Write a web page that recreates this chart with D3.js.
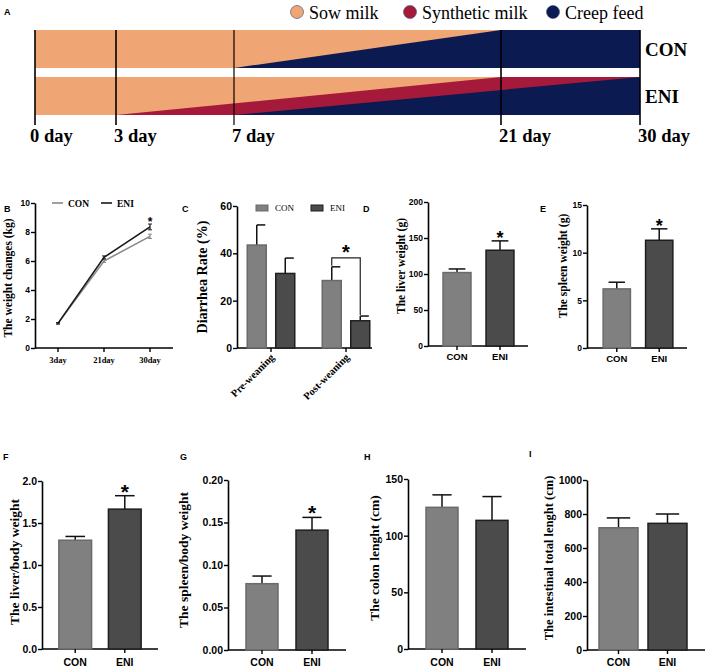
<!DOCTYPE html>
<html><head><meta charset="utf-8">
<script src="https://cdn.jsdelivr.net/npm/d3@7"></script>
<style>body{margin:0;background:#fff} svg{display:block}</style>
</head><body><svg id="c" width="708" height="668"></svg>
<script>
// ================= DATA =================
// Panel A: feeding schedule
const timelineDays = [0, 3, 7, 21, 30];
const timelineLabels = ["0 day", "3 day", "7 day", "21 day", "30 day"];
const feedTypes = ["Sow milk", "Synthetic milk", "Creep feed"];
const feedGroups = ["CON", "ENI"];
// polygons as [day, share-from-bottom]
const conCreep = [[7, 0], [21, 1], [30, 1], [30, 0]];
const eniSynthetic = [[3, 0], [21, 1], [30, 1], [30, 0]];
const eniCreep = [[7, 0], [30, 1], [30, 0]];

// Panel B: weight changes
const weightDays = ["3day", "21day", "30day"];
const weightCON = [1.7, 6.0, 7.7];
const weightCONErr = [0.05, 0.1, 0.15];
const weightENI = [1.7, 6.25, 8.35];
const weightENIErr = [0.05, 0.1, 0.2];

// Panel C: diarrhea rate
const phases = ["Pre-weaning", "Post-weaning"];
const diarrheaCON = [43.5, 28.5];
const diarrheaCONErr = [8.5, 5.8];
const diarrheaENI = [31.5, 11.5];
const diarrheaENIErr = [6.5, 2.0];

// Panels D-I
const groups = ["CON", "ENI"];
const liverWeight = [102, 133], liverWeightErr = [5, 13];
const spleenWeight = [6.2, 11.3], spleenWeightErr = [0.7, 1.2];
const liverBody = [1.295, 1.665], liverBodyErr = [0.045, 0.16];
const spleenBody = [0.078, 0.141], spleenBodyErr = [0.009, 0.015];
const colonLength = [125, 113.5], colonLengthErr = [11, 21];
const intestinalLength = [719, 745], intestinalLengthErr = [58, 55];

// ================= STYLE =================
const feedColor = {"Sow milk": "#f0a574", "Synthetic milk": "#a51a3a", "Creep feed": "#0b1a50"};
const barFill = {CON: "#808080", ENI: "#4b4b4b"};
const barStroke = {CON: "#6a6a6a", ENI: "#1e1e1e"};
const SERIF = "'Liberation Serif', 'Times New Roman', serif";
const SANS = "'Liberation Sans', Arial, sans-serif";

const svg = d3.select("#c");

function panelLabel(t, x, y) {
  svg.append("text").attr("x", x).attr("y", y).text(t)
    .attr("font-family", SANS).attr("font-weight", "bold").attr("font-size", 9);
}

// ================= PANEL A =================
(function () {
  panelLabel("A", 4, 15);
  const x = d3.scaleLinear().domain(timelineDays).range([35, 116, 234, 501, 640]);
  const bands = {CON: [30, 68], ENI: [77, 115]};
  const g = svg.append("g");
  feedGroups.forEach(grp => {
    const [t, b] = bands[grp];
    const y = d3.scaleLinear().domain([0, 1]).range([b, t]);
    g.append("rect").attr("x", x(0)).attr("y", t).attr("width", x(30) - x(0)).attr("height", b - t)
      .attr("fill", feedColor["Sow milk"]);
    const polys = grp === "CON" ? [["Creep feed", conCreep]] : [["Synthetic milk", eniSynthetic], ["Creep feed", eniCreep]];
    polys.forEach(([type, pts]) => {
      g.append("path").attr("d", d3.line().x(d => x(d[0])).y(d => y(d[1]))(pts) + "Z")
        .attr("fill", feedColor[type]);
    });
    svg.append("text").attr("x", 645).attr("y", (t + b) / 2 + 6.5).text(grp)
      .attr("font-family", SERIF).attr("font-weight", "bold").attr("font-size", 19);
  });
  timelineDays.forEach((d, i) => {
    g.append("line").attr("x1", x(d)).attr("x2", x(d)).attr("y1", 30).attr("y2", 125)
      .attr("stroke", "#000").attr("stroke-width", i === 2 ? 1.2 : 1.6);
    svg.append("text").attr("x", x(d) - (i === 0 ? 5 : 2)).attr("y", 142).text(timelineLabels[i])
      .attr("font-family", SERIF).attr("font-weight", "bold").attr("font-size", 18.5);
  });
  // legend
  const lx = [297, 410, 553];
  feedTypes.forEach((f, i) => {
    svg.append("circle").attr("cx", lx[i]).attr("cy", 12).attr("r", 6.5)
      .attr("fill", feedColor[f]).attr("stroke", "#3a4a7a").attr("stroke-width", 0.6);
    svg.append("text").attr("x", lx[i] + 12).attr("y", 18.5).text(f)
      .attr("font-family", SERIF).attr("font-size", 18);
  });
})();

// ================= generic helpers =================
function yAxis(g, y, ax, ticks, fmt, size) {
  const a = g.append("g").attr("transform", `translate(${ax},0)`)
    .call(d3.axisLeft(y).tickValues(ticks).tickFormat(fmt).tickSize(4).tickSizeOuter(0));
  a.select(".domain").attr("stroke", "#000").attr("stroke-width", 1.6);
  a.selectAll(".tick line").attr("stroke", "#000").attr("stroke-width", 1.4);
  a.selectAll(".tick text").attr("font-family", SANS).attr("font-weight", "bold")
    .attr("font-size", size).attr("x", -5).attr("fill", "#000");
  return a;
}
function xAxisLine(g, x0, x1, yb) {
  g.append("line").attr("x1", x0).attr("x2", x1).attr("y1", yb).attr("y2", yb)
    .attr("stroke", "#000").attr("stroke-width", 1.6);
}
function yLabel(text, x, y, size) {
  svg.append("text").attr("transform", `translate(${x},${y}) rotate(-90)`).attr("text-anchor", "middle")
    .text(text).attr("font-family", SERIF).attr("font-weight", "bold").attr("font-size", size);
}
function star(x, y, size) {
  svg.append("text").attr("x", x).attr("y", y).attr("text-anchor", "middle").text("*")
    .attr("font-family", SANS).attr("font-weight", "bold").attr("font-size", size);
}

function barPanel(c) {
  const g = svg.append("g");
  panelLabel(c.label, c.lx, c.ly);
  const y = d3.scaleLinear().domain([0, c.max]).range([c.yBot, c.yTop]);
  const x = d3.scaleBand().domain(groups).range(c.band).paddingInner(c.pi).paddingOuter(c.po);
  yAxis(g, y, c.ax, c.ticks, c.fmt, c.tickSize);
  xAxisLine(g, c.ax, c.axEnd, c.yBot);
  groups.forEach((grp, i) => {
    const bx = x(grp), bw = x.bandwidth();
    const v = c.values[i], e = c.errs[i];
    g.append("line").attr("x1", bx + bw / 2).attr("x2", bx + bw / 2).attr("y1", y(v)).attr("y2", y(v + e))
      .attr("stroke", "#111").attr("stroke-width", 1.5);
    g.append("line").attr("x1", bx + bw * 0.2).attr("x2", bx + bw * 0.8).attr("y1", y(v + e)).attr("y2", y(v + e))
      .attr("stroke", "#111").attr("stroke-width", 1.5);
    g.append("rect").attr("x", bx).attr("y", y(v)).attr("width", bw).attr("height", c.yBot - y(v))
      .attr("fill", barFill[grp]).attr("stroke", barStroke[grp]).attr("stroke-width", 1.5);
    g.append("line").attr("x1", bx + bw / 2).attr("x2", bx + bw / 2).attr("y1", c.yBot).attr("y2", c.yBot + 4)
      .attr("stroke", "#000").attr("stroke-width", 1.4);
    g.append("text").attr("x", bx + bw / 2).attr("y", c.xlabY).attr("text-anchor", "middle").text(grp)
      .attr("font-family", SANS).attr("font-weight", "bold").attr("font-size", c.xlabSize);
    if (c.sig[i]) star(bx + bw / 2, y(v + e) + c.starOff, c.starSize);
  });
  yLabel(c.ylabel, c.ylx, c.yly, c.ylSize);
}

// ================= PANEL B =================
(function () {
  panelLabel("B", 4, 212);
  const g = svg.append("g");
  const y = d3.scaleLinear().domain([0, 10]).range([348, 203]);
  const x = d3.scalePoint().domain(weightDays).range([58, 150]);
  yAxis(g, y, 35, [0, 2, 4, 6, 8, 10], d3.format("d"), 8.5);
  xAxisLine(g, 35, 173, 348);
  weightDays.forEach(d => {
    g.append("line").attr("x1", x(d)).attr("x2", x(d)).attr("y1", 348).attr("y2", 352)
      .attr("stroke", "#000").attr("stroke-width", 1.4);
    g.append("text").attr("x", x(d)).attr("y", 363).attr("text-anchor", "middle").text(d)
      .attr("font-family", SERIF).attr("font-weight", "bold").attr("font-size", 8.5);
  });
  const series = [["CON", weightCON, weightCONErr, "#8a8a8a"], ["ENI", weightENI, weightENIErr, "#1a1a1a"]];
  series.forEach(([name, vals, errs, col]) => {
    const pts = weightDays.map((d, i) => [x(d), y(vals[i])]);
    g.append("path").attr("d", d3.line()(pts)).attr("fill", "none").attr("stroke", col).attr("stroke-width", 1.6);
    weightDays.forEach((d, i) => {
      g.append("line").attr("x1", x(d)).attr("x2", x(d)).attr("y1", y(vals[i] - errs[i])).attr("y2", y(vals[i] + errs[i]))
        .attr("stroke", col).attr("stroke-width", 1.2);
      [vals[i] - errs[i], vals[i] + errs[i]].forEach(v => g.append("line").attr("x1", x(d) - 2).attr("x2", x(d) + 2)
        .attr("y1", y(v)).attr("y2", y(v)).attr("stroke", col).attr("stroke-width", 1));
    });
  });
  star(x("30day"), y(weightENI[2] + weightENIErr[2]) + 2, 12);
  // legend
  const leg = [["CON", "#8a8a8a", 52], ["ENI", "#1a1a1a", 101]];
  leg.forEach(([n, col, lx]) => {
    g.append("line").attr("x1", lx).attr("x2", lx + 11).attr("y1", 203).attr("y2", 203).attr("stroke", col).attr("stroke-width", 1.6);
    g.append("text").attr("x", lx + 16).attr("y", 206.5).text(n)
      .attr("font-family", SERIF).attr("font-weight", "bold").attr("font-size", 9.5);
  });
  yLabel("The weight  changes (kg)", 12, 278, 11.5);
})();

// ================= PANEL C =================
(function () {
  panelLabel("C", 182, 212);
  const g = svg.append("g");
  const y = d3.scaleLinear().domain([0, 60]).range([348, 206]);
  const x = d3.scaleBand().domain(phases).range([237, 380]).paddingInner(0.3).paddingOuter(0.1033);
  const xi = d3.scaleBand().domain(groups).range([0, x.bandwidth()]).paddingInner(0.333).paddingOuter(0.0877);
  yAxis(g, y, 237, [0, 20, 40, 60], d3.format("d"), 10.5);
  xAxisLine(g, 237, 372, 348);
  const vals = {CON: diarrheaCON, ENI: diarrheaENI}, errs = {CON: diarrheaCONErr, ENI: diarrheaENIErr};
  phases.forEach((p, pi) => {
    groups.forEach(grp => {
      const bx = x(p) + xi(grp), bw = xi.bandwidth();
      const v = vals[grp][pi], e = errs[grp][pi];
      g.append("line").attr("x1", bx + bw / 2).attr("x2", bx + bw / 2).attr("y1", y(v)).attr("y2", y(v + e))
        .attr("stroke", "#111").attr("stroke-width", 1.5);
      g.append("line").attr("x1", bx + bw / 2).attr("x2", bx + bw * 0.95).attr("y1", y(v + e)).attr("y2", y(v + e))
        .attr("stroke", "#111").attr("stroke-width", 1.5);
      g.append("rect").attr("x", bx).attr("y", y(v)).attr("width", bw).attr("height", 348 - y(v))
        .attr("fill", barFill[grp]).attr("stroke", barStroke[grp]).attr("stroke-width", 1.5);
    });
    const cx = x(p) + x.bandwidth() / 2;
    g.append("line").attr("x1", cx).attr("x2", cx).attr("y1", 348).attr("y2", 352).attr("stroke", "#000").attr("stroke-width", 1.4);
    g.append("text").attr("transform", `translate(${cx + 4},${358}) rotate(-45)`).attr("text-anchor", "end").text(p)
      .attr("font-family", SERIF).attr("font-weight", "bold").attr("font-size", 10.5);
  });
  // significance bracket over post-weaning
  const p = phases[1];
  const cx1 = x(p) + xi("CON") + xi.bandwidth() / 2, cx2 = x(p) + xi("ENI") + xi.bandwidth() / 2;
  const topY = y(diarrheaCON[1] + diarrheaCONErr[1]) - 9;
  g.append("path").attr("d", `M${cx1},${y(diarrheaCON[1] + diarrheaCONErr[1]) - 1}V${topY}H${cx2}V${y(diarrheaENI[1] + diarrheaENIErr[1]) - 1}`)
    .attr("fill", "none").attr("stroke", "#222").attr("stroke-width", 1.2);
  star((cx1 + cx2) / 2, topY + 1, 20);
  // legend
  [["CON", 256], ["ENI", 311]].forEach(([n, lx]) => {
    g.append("rect").attr("x", lx).attr("y", 205).attr("width", 12).attr("height", 6)
      .attr("fill", barFill[n]).attr("stroke", barStroke[n]).attr("stroke-width", 1);
    g.append("text").attr("x", lx + 19).attr("y", 211).text(n).attr("font-family", SERIF).attr("font-size", 9);
  });
  yLabel("Diarrhea Rate (%)", 207, 277, 14);
})();

// ================= PANELS D-I =================
barPanel({label: "D", lx: 363, ly: 212, ax: 428, axEnd: 528, band: [428, 529], pi: 0.35, po: 0.35,
  yTop: 202, yBot: 346, max: 200, ticks: [0, 50, 100, 150, 200], fmt: d3.format("d"), tickSize: 8.5,
  values: liverWeight, errs: liverWeightErr, sig: [false, true], xlabY: 360, xlabSize: 9.5,
  starOff: 3, starSize: 18, ylabel: "The liver weight (g)", ylx: 405, yly: 266, ylSize: 11.5});
barPanel({label: "E", lx: 540, ly: 212, ax: 587, axEnd: 687, band: [587, 689], pi: 0.357, po: 0.38,
  yTop: 205, yBot: 348, max: 15, ticks: [0, 5, 10, 15], fmt: d3.format("d"), tickSize: 8.5,
  values: spleenWeight, errs: spleenWeightErr, sig: [false, true], xlabY: 362, xlabSize: 9.5,
  starOff: 3, starSize: 18, ylabel: "The spleen weight (g)", ylx: 567, yly: 266, ylSize: 11.5});
barPanel({label: "F", lx: 3, ly: 460, ax: 42, axEnd: 158, band: [42, 158], pi: 0.34, po: 0.34,
  yTop: 481, yBot: 649, max: 2.0, ticks: [0, 0.5, 1.0, 1.5, 2.0], fmt: d3.format(".1f"), tickSize: 10.5,
  values: liverBody, errs: liverBodyErr, sig: [false, true], xlabY: 666, xlabSize: 10.5,
  starOff: 3, starSize: 21, ylabel: "The liver/body weight", ylx: 19, yly: 562, ylSize: 13.5});
barPanel({label: "G", lx: 180, ly: 460, ax: 228, axEnd: 346, band: [228, 346], pi: 0.36, po: 0.36,
  yTop: 480, yBot: 650, max: 0.20, ticks: [0, 0.05, 0.10, 0.15, 0.20], fmt: d3.format(".2f"), tickSize: 10.5,
  values: spleenBody, errs: spleenBodyErr, sig: [false, true], xlabY: 666, xlabSize: 10.5,
  starOff: 3, starSize: 21, ylabel: "The spleen/body weight", ylx: 188, yly: 560, ylSize: 13.5});
barPanel({label: "H", lx: 364, ly: 460, ax: 408, axEnd: 526, band: [408, 526], pi: 0.36, po: 0.36,
  yTop: 479, yBot: 649, max: 150, ticks: [0, 50, 100, 150], fmt: d3.format("d"), tickSize: 10.5,
  values: colonLength, errs: colonLengthErr, sig: [false, false], xlabY: 666, xlabSize: 10.5,
  starOff: 3, starSize: 21, ylabel: "The colon lenght (cm)", ylx: 379, yly: 558, ylSize: 13.5});
barPanel({label: "I", lx: 529, ly: 457, ax: 587, axEnd: 705, band: [587, 699], pi: 0.204, po: 0.245,
  yTop: 480, yBot: 650, max: 1000, ticks: [0, 200, 400, 600, 800, 1000], fmt: d3.format("d"), tickSize: 10.5,
  values: intestinalLength, errs: intestinalLengthErr, sig: [false, false], xlabY: 666, xlabSize: 10.5,
  starOff: 3, starSize: 21, ylabel: "The intestinal total lenght (cm)", ylx: 553, yly: 558, ylSize: 12.5});
</script>
</body></html>
